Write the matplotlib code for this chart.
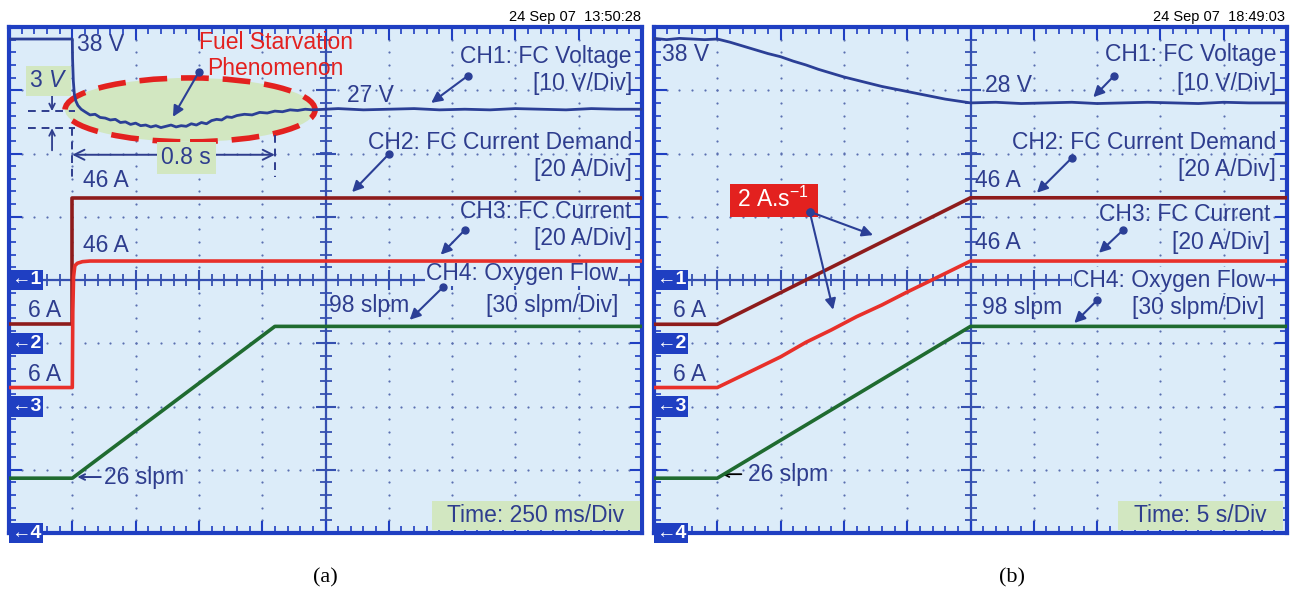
import matplotlib
matplotlib.use('Agg')
import matplotlib.pyplot as plt
from matplotlib.patches import Ellipse, Rectangle
import numpy as np

plt.rcParams['font.family'] = ['Liberation Sans', 'DejaVu Sans']
plt.rcParams['mathtext.fontset'] = 'custom'
plt.rcParams['mathtext.rm'] = 'Liberation Sans'
plt.rcParams['mathtext.it'] = 'Liberation Sans:italic'

# ---- scope settings ----
volt_div = 10.0     # CH1 V/div
amp_div = 20.0      # CH2, CH3 A/div
flow_div = 30.0     # CH4 slpm/div
ground = {1: 4, 2: 3, 3: 2, 4: 0}   # ground markers (div from bottom)

# ---- panel (a) data: 250 ms/div ----
a_tdiv = 0.25
a_volt_t = [0.0, 0.25, 0.251, 0.254, 0.258, 0.264, 0.272, 0.285, 0.30, 0.32, 0.34, 0.36,
            0.38, 0.40, 0.42, 0.44, 0.46, 0.48, 0.50, 0.52, 0.54, 0.56, 0.58, 0.60,
            0.62, 0.64, 0.66, 0.68, 0.70, 0.72, 0.74, 0.76, 0.78, 0.80, 0.82, 0.84,
            0.86, 0.88, 0.90, 0.93, 0.96, 0.99, 1.02, 1.05, 1.08, 1.11, 1.14, 1.17,
            1.20, 1.30, 1.40, 1.50, 1.60, 1.70, 1.80, 1.90, 2.00, 2.10, 2.20, 2.30,
            2.40, 2.50]
a_volt_v = [38.1, 38.1, 35.0, 31.5, 29.4, 28.3, 27.6, 27.0, 26.6, 26.1, 26.2, 25.7,
            25.6, 25.3, 25.4, 24.9, 25.0, 24.6, 24.8, 24.4, 24.5, 24.2, 24.4, 24.1,
            24.3, 24.5, 24.2, 24.4, 24.3, 24.7, 24.5, 24.9, 24.7, 25.2, 25.4, 25.3,
            25.8, 25.7, 26.0, 26.2, 26.1, 26.5, 26.4, 26.7, 26.6, 26.9, 26.8, 27.0,
            26.9, 27.1, 26.9, 27.0, 27.1, 26.9, 27.0, 26.9, 27.1, 27.0, 26.9, 27.1,
            27.0, 27.0]
a_dem_t = [0.0, 0.25, 0.25, 2.5]
a_dem_i = [6, 6, 46, 46]
a_cur_t = [0.0, 0.25, 0.252, 0.255, 0.26, 0.27, 0.29, 0.32, 2.5]
a_cur_i = [6, 6, 30, 41, 44.5, 45.3, 45.8, 46, 46]
a_o2_t = [0.0, 0.25, 1.05, 2.5]
a_o2_q = [26, 26, 98, 98]

# ---- panel (b) data: 5 s/div ----
b_tdiv = 5.0
b_volt_t = [0, 1, 2, 3, 4, 5, 6, 7, 8, 9, 10, 11, 12, 13, 14, 15, 16, 17, 18, 19, 20,
            21, 22, 23, 24, 25, 27, 29, 31, 33, 35, 37, 39, 41, 43, 45, 47, 49, 50]
b_volt_v = [38.2, 38.0, 38.2, 38.1, 38.0, 38.1, 37.6, 37.0, 36.4, 35.8, 35.3, 34.6,
            34.0, 33.3, 32.7, 32.1, 31.6, 31.1, 30.6, 30.2, 29.8, 29.4, 29.0, 28.6,
            28.3, 28.0, 28.1, 27.9, 28.0, 28.1, 27.9, 28.0, 28.1, 28.0, 27.9, 28.1,
            28.0, 28.0, 28.0]
b_dem_t = [0, 5, 25, 50]
b_dem_i = [6, 6, 46, 46]
b_cur_t = [0, 5, 8, 10, 12, 14, 16, 18, 20, 22, 25, 50]
b_cur_i = [6, 6, 11.8, 15.7, 20.3, 24.2, 28.4, 32.1, 36.2, 40.1, 46, 46]
b_o2_t = [0, 5, 25, 50]
b_o2_q = [26, 26, 98, 98]

# ---- colours ----
BG = '#dcecf9'
FRAME = '#1f3fc2'
AXC = '#3550b0'
DOTC = '#5b6fb0'
TXT = '#2e3d8e'
C1 = '#2b3f96'
C2 = '#8e1c1c'
C3 = '#e8302a'
C4 = '#1f6b30'
GREEN = '#d2e7c1'
RED = '#e3211f'

FS = 16.5


def setup_scope(ax):
    ax.set_xlim(0, 10)
    ax.set_ylim(0, 8)
    ax.set_facecolor(BG)
    for s in ax.spines.values():
        s.set_color(FRAME)
        s.set_linewidth(3)
    ax.set_xticks(range(11))
    ax.set_yticks(range(9))
    ax.set_xticks(np.arange(0, 10.01, 0.2), minor=True)
    ax.set_yticks(np.arange(0, 8.01, 0.2), minor=True)
    ax.tick_params(which='both', direction='in', top=True, right=True,
                   labelbottom=False, labelleft=False, color=FRAME)
    ax.tick_params(which='major', length=9, width=1.5)
    ax.tick_params(which='minor', length=5, width=1.2)
    # dotted grid
    fine_x = np.arange(0.2, 10, 0.2)
    fine_y = np.arange(0.2, 8, 0.2)
    for gx in range(1, 10):
        if gx != 5:
            ax.scatter(np.full(len(fine_y), gx), fine_y, s=2.5, color=DOTC, lw=0, zorder=1)
    for gy in range(1, 8):
        if gy != 4:
            ax.scatter(fine_x, np.full(len(fine_x), gy), s=2.5, color=DOTC, lw=0, zorder=1)
    # centre axes with ticks
    ax.axhline(4, color=AXC, lw=1.6, zorder=1)
    ax.axvline(5, color=AXC, lw=1.6, zorder=1)
    ax.plot(fine_x, np.full(len(fine_x), 4), ls='none', marker='|', ms=9, mew=1.3, color=AXC, zorder=1)
    ax.plot(np.full(len(fine_y), 5), fine_y, ls='none', marker='_', ms=9, mew=1.3, color=AXC, zorder=1)
    ax.plot(range(1, 10), np.full(9, 4), ls='none', marker='|', ms=15, mew=1.5, color=AXC, zorder=1)
    ax.plot(np.full(7, 5), range(1, 8), ls='none', marker='_', ms=15, mew=1.5, color=AXC, zorder=1)
    # ground markers
    for ch, g in ground.items():
        ax.text(0.03, g, '\u2190' + str(ch), color='white', fontsize=14, fontweight='bold',
                ha='left', va='center', zorder=6, clip_on=False,
                bbox=dict(boxstyle='square,pad=0.1', fc=FRAME, ec='none'))


def traces(ax, tdiv, vt, vv, dt, di, ct, ci, ot, oq):
    ax.plot(np.array(vt) / tdiv, ground[1] + np.array(vv) / volt_div, color=C1, lw=2.0, zorder=4)
    ax.plot(np.array(dt) / tdiv, ground[2] + np.array(di) / amp_div, color=C2, lw=2.6, zorder=4)
    ax.plot(np.array(ct) / tdiv, ground[3] + np.array(ci) / amp_div, color=C3, lw=2.6, zorder=4)
    ax.plot(np.array(ot) / tdiv, ground[4] + np.array(oq) / flow_div, color=C4, lw=2.6, zorder=4)


def label(ax, x, y, s, ha='left', **kw):
    ax.text(x, y, s, color=kw.pop('color', TXT), fontsize=kw.pop('fontsize', FS),
            ha=ha, va='center', zorder=7, **kw)


def dot_arrow(ax, start, end, color=C1):
    ax.annotate('', xy=end, xytext=start, zorder=7,
                arrowprops=dict(arrowstyle='-|>', color=color, lw=1.5, mutation_scale=16,
                                shrinkA=0, shrinkB=0))
    ax.plot(*start, 'o', color=color, ms=5, zorder=7)


def channel_labels(ax, xr, ys):
    label(ax, xr[0], ys[0], 'CH1: FC Voltage', ha='right')
    label(ax, xr[0], ys[1], '[10 V/Div]', ha='right')
    label(ax, xr[1], ys[2], 'CH2: FC Current Demand', ha='right')
    label(ax, xr[1], ys[3], '[20 A/Div]', ha='right')
    label(ax, xr[2], ys[4], 'CH3: FC Current', ha='right')
    label(ax, xr[2], ys[5], '[20 A/Div]', ha='right')
    # background patch hides the centre axis behind the text, but not the traces
    ax.text(xr[3], ys[6], 'CH4: Oxygen Flow', color=TXT, fontsize=FS, ha='right', va='center',
            zorder=3, bbox=dict(boxstyle='square,pad=0.05', fc=BG, ec='none'))
    label(ax, xr[3], ys[7], '[30 slpm/Div]', ha='right')


def time_box(ax, x0, x1, s):
    ax.add_patch(Rectangle((x0, 0.05), x1 - x0, 0.46, fc=GREEN, ec='none', zorder=5))
    label(ax, (x0 + x1) / 2, 0.27, s, ha='center')


fig = plt.figure(figsize=(13, 5.95), dpi=100)
fig.patch.set_facecolor('white')

# ================= panel (a) =================
ax = fig.add_axes([9 / 1300, 62 / 595, 633 / 1300, 506 / 595])
setup_scope(ax)
ax.add_patch(Ellipse((2.86, 6.69), 3.95, 1.01, fc=GREEN, ec=RED, lw=4,
                     ls=(0, (5, 2.5)), zorder=2))
traces(ax, a_tdiv, a_volt_t, a_volt_v, a_dem_t, a_dem_i, a_cur_t, a_cur_i, a_o2_t, a_o2_q)

label(ax, 1.07, 7.72, '38 V')
label(ax, 4.22, 7.76, 'Fuel Starvation', ha='center', color=RED)
label(ax, 4.2, 7.34, 'Phenomenon', ha='center', color=RED)
dot_arrow(ax, (3.0, 7.29), (2.59, 6.58))
ax.text(0.62, 7.15, '3 $\\mathit{V}$', color=TXT, fontsize=FS, ha='center', va='center', zorder=7,
        bbox=dict(boxstyle='square,pad=0.15', fc=GREEN, ec='none'))
ax.plot([0.3, 1.05], [6.67, 6.67], color=TXT, lw=1.4, ls=(0, (4, 3)), zorder=6)
ax.plot([0.3, 1.05], [6.40, 6.40], color=TXT, lw=1.4, ls=(0, (4, 3)), zorder=6)
ax.annotate('', xy=(0.68, 6.67), xytext=(0.68, 6.92),
            arrowprops=dict(arrowstyle='->', color=TXT, lw=1.3, shrinkA=0, shrinkB=0))
ax.annotate('', xy=(0.68, 6.40), xytext=(0.68, 6.05),
            arrowprops=dict(arrowstyle='->', color=TXT, lw=1.3, shrinkA=0, shrinkB=0))
ax.plot([1.0, 1.0], [6.40, 5.63], color=TXT, lw=1.4, ls=(0, (4, 3)), zorder=6)
ax.plot([4.2, 4.2], [6.29, 5.63], color=TXT, lw=1.4, ls=(0, (4, 3)), zorder=6)
ax.annotate('', xy=(4.2, 5.98), xytext=(1.0, 5.98), zorder=6,
            arrowprops=dict(arrowstyle='<->', color=TXT, lw=1.4, shrinkA=0, shrinkB=0,
                            mutation_scale=18))
ax.text(2.8, 5.93, '0.8 s', color=TXT, fontsize=FS, ha='center', va='center', zorder=7,
        bbox=dict(boxstyle='square,pad=0.2', fc=GREEN, ec='none'))
label(ax, 5.34, 6.92, '27 V')
channel_labels(ax, [9.84, 9.84, 9.84, 9.62], [7.54, 7.11, 6.18, 5.74, 5.09, 4.65, 4.11, 3.60])
dot_arrow(ax, (7.25, 7.23), (6.67, 6.80))
dot_arrow(ax, (6.0, 5.99), (5.42, 5.39))
dot_arrow(ax, (7.2, 4.79), (6.82, 4.40))
dot_arrow(ax, (6.86, 3.89), (6.33, 3.37))
label(ax, 1.17, 5.57, '46 A')
label(ax, 1.17, 4.54, '46 A')
label(ax, 5.06, 3.60, '98 slpm')
label(ax, 0.30, 3.51, '6 A')
label(ax, 0.30, 2.51, '6 A')
ax.annotate('', xy=(1.08, 0.885), xytext=(1.45, 0.885),
            arrowprops=dict(arrowstyle='->', color=TXT, lw=1.4, shrinkA=0, shrinkB=0))
label(ax, 1.5, 0.885, '26 slpm')
time_box(ax, 6.68, 9.97, 'Time: 250 ms/Div')

# ================= panel (b) =================
bx = fig.add_axes([654 / 1300, 62 / 595, 633 / 1300, 506 / 595])
setup_scope(bx)
traces(bx, b_tdiv, b_volt_t, b_volt_v, b_dem_t, b_dem_i, b_cur_t, b_cur_i, b_o2_t, b_o2_q)

label(bx, 0.13, 7.56, '38 V')
label(bx, 5.23, 7.07, '28 V')
channel_labels(bx, [9.83, 9.83, 9.73, 9.65], [7.56, 7.11, 6.18, 5.74, 5.04, 4.60, 4.00, 3.56])
dot_arrow(bx, (7.27, 7.23), (6.94, 6.89))
dot_arrow(bx, (6.6, 5.93), (6.05, 5.38))
dot_arrow(bx, (7.41, 4.79), (7.03, 4.43))
dot_arrow(bx, (7.0, 3.68), (6.64, 3.32))
label(bx, 5.07, 5.57, '46 A')
label(bx, 5.07, 4.60, '46 A')
label(bx, 5.18, 3.56, '98 slpm')
label(bx, 0.30, 3.51, '6 A')
label(bx, 0.30, 2.51, '6 A')
bx.annotate('', xy=(1.07, 0.93), xytext=(1.38, 0.93),
            arrowprops=dict(arrowstyle='->', color='black', lw=1.3, shrinkA=0, shrinkB=0))
label(bx, 1.48, 0.93, '26 slpm')
bx.add_patch(Rectangle((1.2, 5.0), 1.39, 0.52, fc=RED, ec='none', zorder=6))
bx.text(1.88, 5.27, '2 A.s$^{-1}$', color='white', fontsize=FS, ha='center', va='center', zorder=7)
dot_arrow(bx, (2.46, 5.08), (3.46, 4.71))
dot_arrow(bx, (2.46, 5.08), (2.83, 3.53))
time_box(bx, 7.33, 9.94, 'Time: 5 s/Div')

# timestamps and captions
fig.text(641 / 1300, 1 - 17 / 595, '24 Sep 07  13:50:28', fontsize=10.5, ha='right', va='center')
fig.text(1285 / 1300, 1 - 17 / 595, '24 Sep 07  18:49:03', fontsize=10.5, ha='right', va='center')
fig.text(325 / 1300, 1 - 578 / 595, '(a)', fontsize=16, ha='center', va='center',
         family='Liberation Serif')
fig.text(1012 / 1300, 1 - 578 / 595, '(b)', fontsize=16, ha='center', va='center',
         family='Liberation Serif')

fig.savefig('out.png', dpi=100)
